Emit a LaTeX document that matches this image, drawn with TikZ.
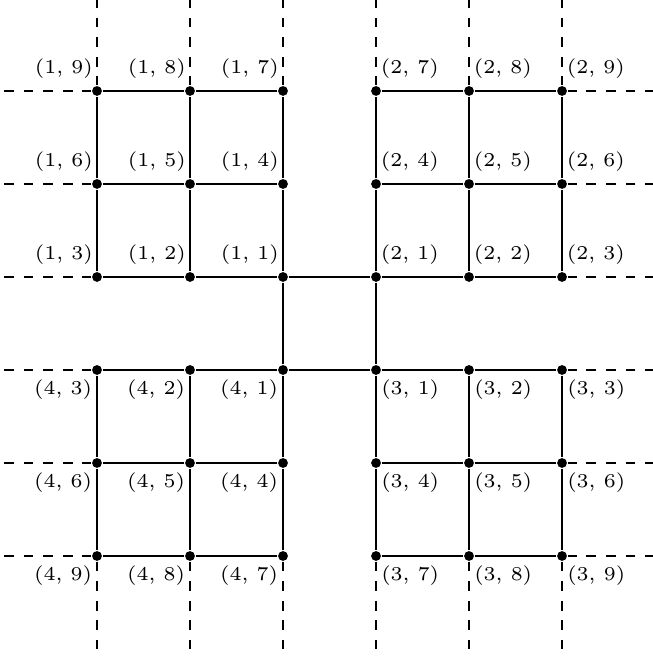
\documentclass[tikz,border=0pt]{standalone}
\begin{document}
\begin{tikzpicture}[x=1cm,y=1cm,
  dot/.style={circle,fill=black,inner sep=0pt,minimum size=3pt},
  lab/.style={font=\fontsize{6}{7}\selectfont,inner sep=0pt},
  edge/.style={thick},
  ext/.style={thick,dashed}]
\useasboundingbox (-1.043,-1.086) rectangle (5.978,5.978);
% quadrant: id / x-direction / y-direction / origin x / origin y / label anchor / label shift x / label shift y
\foreach \q/\sx/\sy/\ox/\oy/\anc/\dx/\dy in {
  1/-1/1/2/3/south east/-1.1pt/3.5pt,
  2/1/1/3/3/south west/1.3pt/3.5pt,
  3/1/-1/3/2/north west/1.4pt/-2.8pt,
  4/-1/-1/2/2/north east/-1.3pt/-2.8pt}{
  \foreach \r in {0,1,2}{
    \foreach \c in {0,1,2}{
      \pgfmathtruncatemacro\k{3*\r+\c+1}
      \node[dot] (n\q-\k) at ({\ox+\sx*\c},{\oy+\sy*\r}) {};
      \node[lab,anchor=\anc] (l\q-\k) at ([xshift=\dx,yshift=\dy]n\q-\k.center) {(\q, \k)};
    }
  }
}
% edges inside each quadrant
\foreach \q in {1,2,3,4}{
  \foreach \a/\b in {1/2,2/3,4/5,5/6,7/8,8/9,1/4,4/7,2/5,5/8,3/6,6/9}{
    \draw[edge] (n\q-\a) -- (n\q-\b);
  }
}
% central square
\draw[edge] (n1-1) -- (n2-1) -- (n3-1) -- (n4-1) -- (n1-1);
% free ends of dashed lines
\foreach \k/\x in {9/0,8/1,7/2}{\coordinate (t1-\k) at (\x,6); \draw[ext] (t1-\k) -- (n1-\k);}
\foreach \k/\x in {7/3,8/4,9/5}{\coordinate (t2-\k) at (\x,6); \draw[ext] (t2-\k) -- (n2-\k);}
\foreach \k/\x in {9/0,8/1,7/2}{\coordinate (b4-\k) at (\x,-1); \draw[ext] (n4-\k) -- (b4-\k);}
\foreach \k/\x in {7/3,8/4,9/5}{\coordinate (b3-\k) at (\x,-1); \draw[ext] (n3-\k) -- (b3-\k);}
\foreach \k/\y in {9/5,6/4,3/3}{\coordinate (w1-\k) at (-1,\y); \draw[ext] (w1-\k) -- (n1-\k);}
\foreach \k/\y in {3/2,6/1,9/0}{\coordinate (w4-\k) at (-1,\y); \draw[ext] (w4-\k) -- (n4-\k);}
\foreach \k/\y in {9/5,6/4,3/3}{\coordinate (e2-\k) at (6,\y); \draw[ext] (e2-\k) -- (n2-\k);}
\foreach \k/\y in {3/2,6/1,9/0}{\coordinate (e3-\k) at (6,\y); \draw[ext] (e3-\k) -- (n3-\k);}
\end{tikzpicture}
\end{document}
